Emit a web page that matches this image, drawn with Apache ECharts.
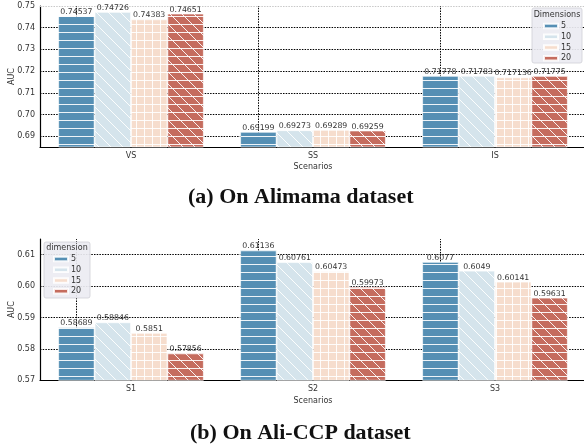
<!DOCTYPE html>
<html>
<head>
<meta charset="utf-8">
<script src="https://cdn.jsdelivr.net/npm/echarts@6/dist/echarts.min.js"></script>
<style>
html,body{margin:0;padding:0;background:#fff;}
#main{width:584px;height:448px;}
</style>
</head>
<body>
<div id="main"></div>
<script>
// ---- data ----
const categoriesA = ['VS', 'SS', 'IS'];
const dim5A  = [0.74537, 0.69199, 0.71778];
const dim10A = [0.74726, 0.69273, 0.71783];
const dim15A = [0.74383, 0.69289, 0.717136];
const dim20A = [0.74651, 0.69259, 0.71775];
const ticksA = [0.69, 0.70, 0.71, 0.72, 0.73, 0.74, 0.75];

const categoriesB = ['S1', 'S2', 'S3'];
const dim5B  = [0.58689, 0.61136, 0.6077];
const dim10B = [0.58846, 0.60761, 0.6049];
const dim15B = [0.5851, 0.60473, 0.60141];
const dim20B = [0.57856, 0.59973, 0.59631];
const ticksB = [0.57, 0.58, 0.59, 0.60, 0.61];

const dimNames = ['5', '10', '15', '20'];
const titleA = '(a) On Alimama dataset';
const titleB = '(b) On Ali-CCP dataset';

// ---- styles ----
const colors = ['#558fb4', '#d5e4ec', '#f6ddcd', '#c56c5e'];
const hatches = ['h', 'd', 'hv', 'hd'];
const FONT = 'DejaVu Sans';

function makePattern(bg, kind) {
  const c = document.createElement('canvas');
  c.width = 24; c.height = 24;
  const ctx = c.getContext('2d');
  ctx.fillStyle = bg; ctx.fillRect(0, 0, 24, 24);
  ctx.strokeStyle = 'rgba(255,255,255,0.9)';
  ctx.lineWidth = 1;
  ctx.beginPath();
  if (kind.indexOf('h') >= 0) for (let y = 0; y < 24; y += 8) { ctx.moveTo(0, y + 0.5); ctx.lineTo(24, y + 0.5); }
  if (kind.indexOf('v') >= 0) for (let x = 0; x < 24; x += 8) { ctx.moveTo(x + 0.5, 0); ctx.lineTo(x + 0.5, 24); }
  if (kind.indexOf('d') >= 0) for (let k = -24; k <= 24; k += 12) { ctx.moveTo(k, 0); ctx.lineTo(k + 24, 24); }
  ctx.stroke();
  return { image: c, repeat: 'repeat' };
}
const patterns = colors.map((c, i) => makePattern(c, hatches[i]));

function gridLines(ticks, cats, topGray) {
  const d = ticks.map(v => {
    const item = { yAxis: v };
    if (topGray && v === ticks[ticks.length - 1]) item.lineStyle = { color: '#c8c8c8' };
    return item;
  });
  cats.forEach(c => d.push({ xAxis: c }));
  return d;
}

function makeSeries(gridIdx, arrays, ticks, cats, topGray) {
  return arrays.map((arr, i) => {
    const s = {
      name: dimNames[i],
      type: 'bar',
      xAxisIndex: gridIdx, yAxisIndex: gridIdx,
      data: arr,
      barGap: '0%', barCategoryGap: '20%',
      itemStyle: { color: patterns[i], borderColor: 'rgba(255,255,255,0.85)', borderWidth: 0.8 },
      label: {
        show: true, position: 'top', distance: 0,
        fontFamily: FONT, fontSize: 7.8, color: '#333',
        formatter: p => String(p.value)
      },
      z: 2
    };
    if (i === 0) {
      s.markLine = {
        silent: true, symbol: 'none', z: 1, animation: false,
        label: { show: false },
        lineStyle: { color: '#000', width: 1, type: [1.5, 1.2] },
        data: gridLines(ticks, cats, topGray)
      };
    }
    return s;
  });
}

function xAx(gridIdx, cats, nameGap) {
  return {
    type: 'category', gridIndex: gridIdx, data: cats,
    axisLine: { show: true, lineStyle: { color: '#000', width: 1.2 } },
    axisTick: { show: false },
    axisLabel: { fontFamily: FONT, fontSize: 8, color: '#333', margin: 5 },
    splitLine: { show: false },
    name: 'Scenarios', nameLocation: 'middle', nameGap: nameGap,
    nameTextStyle: { fontFamily: FONT, fontSize: 8, color: '#333' }
  };
}
function yAx(gridIdx, min, max) {
  return {
    type: 'value', gridIndex: gridIdx, min: min, max: max, interval: 0.005,
    axisLine: { show: true, onZero: false, lineStyle: { color: '#000', width: 1.2 } },
    axisTick: { show: false },
    splitLine: { show: false },
    axisLabel: {
      fontFamily: FONT, fontSize: 8, color: '#333', margin: 5,
      formatter: v => (Math.round(v * 200) % 2 === 0 ? v.toFixed(2) : '')
    },
    name: 'AUC', nameLocation: 'middle', nameGap: 24, nameMoveOverlap: false,
    nameTextStyle: { fontFamily: FONT, fontSize: 8, color: '#333' }
  };
}

function legendBox(x, y, w, h, title, cx, ty) {
  return [
    { type: 'rect', z: 3, shape: { x: x, y: y, width: w, height: h, r: 2 },
      style: { fill: 'rgba(236,236,242,0.92)', stroke: '#cfcfd6', lineWidth: 0.8 } },
    { type: 'text', z: 5, x: cx, y: ty,
      style: { text: title, fontFamily: FONT, fontSize: 8, fill: '#333', align: 'center', verticalAlign: 'middle' } }
  ];
}
function legendOpt(left, top) {
  return {
    orient: 'vertical', left: left, top: top, padding: 0, itemGap: 0,
    itemWidth: 14, itemHeight: 4.5, icon: 'rect', z: 6,
    textStyle: { fontFamily: FONT, fontSize: 8, color: '#333', lineHeight: 10.7, padding: [0, 0, 0, -2] },
    selectedMode: false,
    data: dimNames.map((n, i) => ({ name: n, itemStyle: { color: colors[i] } }))
  };
}

const chart = echarts.init(document.getElementById('main'), null, { renderer: 'canvas' });
chart.setOption({
  animation: false,
  backgroundColor: '#fff',
  title: [
    { text: titleA, left: 188, top: 186, padding: 0,
      textStyle: { fontFamily: 'Liberation Serif', fontWeight: 'bold', fontSize: 22, color: '#111' } },
    { text: titleB, left: 190, top: 422, padding: 0,
      textStyle: { fontFamily: 'Liberation Serif', fontWeight: 'bold', fontSize: 22, color: '#111' } }
  ],
  grid: [
    { left: 40, top: 6, width: 546, height: 141, outerBoundsMode: 'none', containLabel: false },
    { left: 40, top: 239, width: 546, height: 141.3, outerBoundsMode: 'none', containLabel: false }
  ],
  xAxis: [xAx(0, categoriesA, 16), xAx(1, categoriesB, 16.5)],
  yAxis: [yAx(0, 0.685, 0.75), yAx(1, 0.57, 0.615)],
  legend: [legendOpt(543, 20.7), legendOpt(53, 253.7)],
  graphic: [].concat(
    legendBox(532, 8, 50, 55, 'Dimensions', 557, 15),
    legendBox(44, 242, 46, 56, 'dimension', 67, 248.3)
  ),
  series: [].concat(
    makeSeries(0, [dim5A, dim10A, dim15A, dim20A], ticksA, categoriesA, true),
    makeSeries(1, [dim5B, dim10B, dim15B, dim20B], ticksB, categoriesB, false)
  )
});
</script>
</body>
</html>
